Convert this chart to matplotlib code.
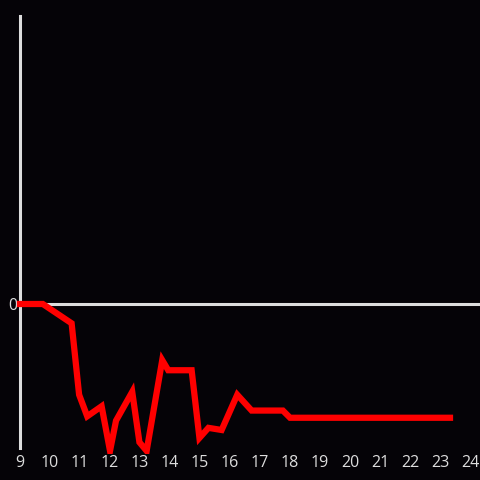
import matplotlib

matplotlib.use("Agg")
import matplotlib.pyplot as plt
from matplotlib.patches import Rectangle

# hours vs value
hours = [9.0, 9.76, 10.72, 10.97, 11.24, 11.72, 12.0, 12.2, 12.74, 12.98, 13.22,
         13.74, 13.94, 14.72, 14.98, 15.28, 15.72, 16.24, 16.72, 17.76, 18.0, 23.33]
values = [0.0, 0.0, -0.134, -0.63, -0.78, -0.71, -1.02, -0.81, -0.61, -0.96, -1.02,
          -0.39, -0.46, -0.46, -0.93, -0.86, -0.875, -0.63, -0.74, -0.74, -0.79, -0.79]
xticks = list(range(9, 25))

BG = "#050307"
FG = "#dddddd"

fig = plt.figure(figsize=(4.8, 4.8), dpi=100, facecolor=BG)
ax = fig.add_axes([20 / 480, 32 / 480, 460 / 480, 432 / 480], facecolor=BG)

ax.axhline(0, color=FG, linewidth=2.2, zorder=1)
line, = ax.plot(hours, values, color="#ff0000", linewidth=4.5, solid_joinstyle="miter", zorder=3)
# the reference lets the line run a few pixels under the plot area
line.set_clip_path(Rectangle((-0.05, -6 / 432), 1.1, 1 + 6 / 432, transform=ax.transAxes))

ax.set_xlim(9, 24.33)
ax.set_ylim(-1, 2)
ax.set_xticks(xticks)
ax.set_xticklabels([str(t) for t in xticks])
ax.set_yticks([0])
ax.set_yticklabels(["0"])
ax.tick_params(axis="both", length=0, colors=FG, labelsize=11.5, pad=5)
ax.tick_params(axis="y", pad=2)
for lab in ax.get_xticklabels() + ax.get_yticklabels():
    lab.set_family("Open Sans")

for side in ["top", "right", "bottom"]:
    ax.spines[side].set_visible(False)
ax.spines["left"].set_color(FG)
ax.spines["left"].set_linewidth(2.2)

fig.savefig("out.png", dpi=100, facecolor=BG)
